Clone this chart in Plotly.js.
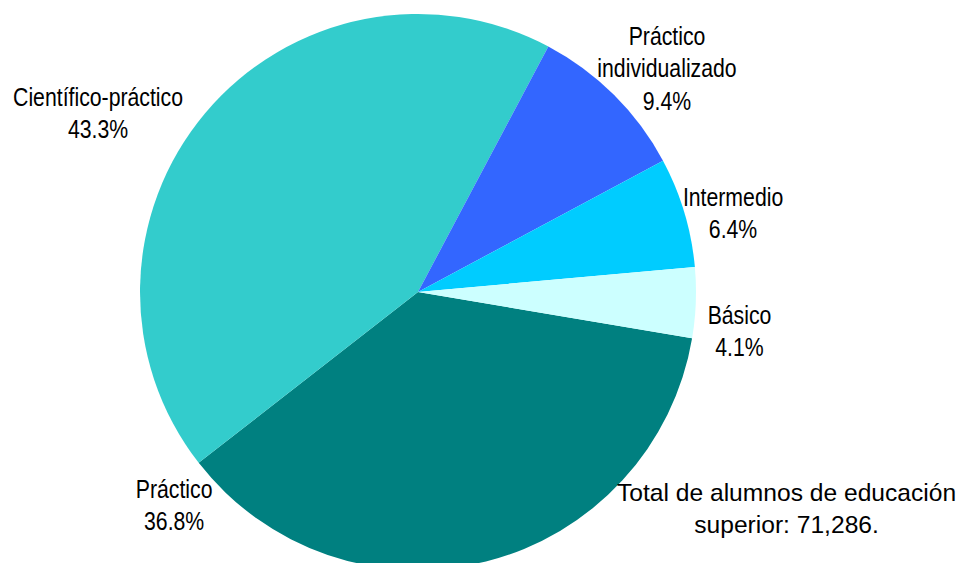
<!DOCTYPE html>
<html>
<head>
<meta charset="utf-8">
<script src="https://cdn.plot.ly/plotly-3.0.1.min.js"></script>
<style>
  html, body { margin: 0; padding: 0; overflow: hidden; background: #fff; }
  #chart { width: 963px; height: 570px; }
  .narrow-label { transform-box: fill-box; transform-origin: center; transform: scaleX(0.85); }
</style>
</head>
<body>
<div id="chart"></div>
<script>
// Data
var categories = ['Práctico', 'Científico-práctico', 'Práctico individualizado', 'Intermedio', 'Básico'];
var labelLines = ['Práctico', 'Científico-práctico', 'Práctico<br>individualizado', 'Intermedio', 'Básico'];
var percents = [36.8, 43.3, 9.4, 6.4, 4.1];
var totalNote = 'Total de alumnos de educación<br>superior: 71,286.';

// Styles / layout
var colors = ['#008080', '#33CCCC', '#3366FF', '#00CCFF', '#CCFFFF'];
var W = 963, H = 570;
// label centres in pixels
var labelPos = [[174, 505], [98, 114], [667, 68], [733, 213], [739, 331]];
var notePos = [786, 508];

var trace = {
  type: 'pie',
  labels: categories,
  values: percents,
  marker: { colors: colors, line: { width: 0 } },
  sort: false,
  direction: 'clockwise',
  rotation: 99.6,
  textinfo: 'none',
  hoverinfo: 'label+percent',
  showlegend: false,
  domain: { x: [140 / W, 696 / W], y: [0, 556 / H] }
};

var labelFont = { family: '"Liberation Sans Narrow", "Arial Narrow", "Liberation Sans", Arial, sans-serif', size: 25, color: '#000' };
var annotations = categories.map(function (c, i) {
  return {
    xref: 'paper', yref: 'paper',
    x: labelPos[i][0] / W, y: 1 - labelPos[i][1] / H,
    xanchor: 'center', yanchor: 'middle',
    text: labelLines[i] + '<br>' + percents[i].toFixed(1) + '%',
    showarrow: false,
    align: 'center',
    font: labelFont
  };
});
annotations.push({
  xref: 'paper', yref: 'paper',
  x: notePos[0] / W, y: 1 - notePos[1] / H,
  xanchor: 'center', yanchor: 'middle',
  text: totalNote,
  showarrow: false,
  align: 'center',
  font: { family: '"Liberation Sans", Arial, sans-serif', size: 24.6, color: '#000' }
});

var layout = {
  width: W, height: H,
  margin: { l: 0, r: 0, t: 0, b: 0 },
  paper_bgcolor: '#fff',
  plot_bgcolor: '#fff',
  annotations: annotations
};

Plotly.newPlot('chart', [trace], layout, { displayModeBar: false, staticPlot: true }).then(function () {
  // emulate a narrow (condensed) typeface for the slice labels
  var texts = document.querySelectorAll('#chart .annotation-text');
  for (var i = 0; i < texts.length && i < categories.length; i++) {
    texts[i].classList.add('narrow-label');
  }
});
</script>
</body>
</html>
